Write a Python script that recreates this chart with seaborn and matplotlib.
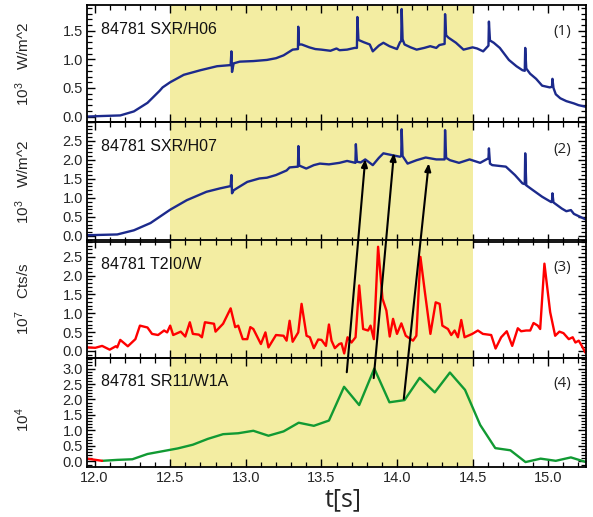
import numpy as np
import pandas as pd
import matplotlib
matplotlib.use("Agg")
import matplotlib.pyplot as plt
from matplotlib.ticker import MultipleLocator, AutoMinorLocator, FuncFormatter, FormatStrFormatter
from matplotlib.patches import ConnectionPatch
import seaborn as sns

# ---- shot 84781 signals ----
h06_t = [11.95, 12.05, 12.17, 12.26, 12.35, 12.43, 12.45, 12.50, 12.59, 12.70, 12.81, 12.90,
         12.905, 12.909, 12.92, 12.96, 13.05, 13.14, 13.20, 13.25, 13.31, 13.345, 13.347, 13.352,
         13.37, 13.42, 13.46, 13.50, 13.56, 13.60, 13.62, 13.67, 13.72, 13.735, 13.738, 13.745,
         13.78, 13.82, 13.84, 13.88, 13.91, 13.95, 14.00, 14.02, 14.028, 14.031, 14.037, 14.05,
         14.09, 14.13, 14.18, 14.22, 14.26, 14.28, 14.315, 14.318, 14.325, 14.34, 14.39, 14.44,
         14.50, 14.53, 14.57, 14.605, 14.608, 14.615, 14.64, 14.68, 14.74, 14.79, 14.83, 14.845,
         14.848, 14.855, 14.88, 14.92, 14.96, 15.01, 15.025, 15.028, 15.035, 15.05, 15.08, 15.12,
         15.17, 15.20, 15.25]
h06_v = [0.00, 0.01, 0.02, 0.09, 0.24, 0.45, 0.51, 0.60, 0.73, 0.81, 0.88, 0.90,
         1.14, 0.78, 0.93, 0.96, 0.97, 0.99, 1.02, 1.07, 1.17, 1.18, 1.57, 1.26,
         1.26, 1.21, 1.18, 1.17, 1.15, 1.19, 1.16, 1.17, 1.20, 1.20, 1.74, 1.34,
         1.30, 1.26, 1.14, 1.24, 1.29, 1.23, 1.18, 1.30, 1.32, 1.88, 1.35, 1.26,
         1.21, 1.17, 1.20, 1.23, 1.20, 1.25, 1.27, 1.79, 1.42, 1.38, 1.29, 1.17,
         1.21, 1.19, 1.14, 1.24, 1.66, 1.33, 1.29, 1.20, 0.99, 0.88, 0.81, 0.80,
         1.20, 0.84, 0.75, 0.66, 0.54, 0.51, 0.52, 0.66, 0.50, 0.39, 0.32, 0.27,
         0.23, 0.20, 0.17]

h07_t = [11.95, 12.05, 12.15, 12.26, 12.37, 12.50, 12.61, 12.74, 12.83, 12.90, 12.905, 12.909,
         12.92, 12.94, 13.01, 13.09, 13.14, 13.20, 13.27, 13.29, 13.345, 13.348, 13.353, 13.40,
         13.45, 13.49, 13.55, 13.62, 13.67, 13.725, 13.728, 13.735, 13.76, 13.79, 13.84, 13.88,
         13.91, 13.97, 14.02, 14.028, 14.031, 14.037, 14.07, 14.13, 14.19, 14.26, 14.315, 14.318,
         14.325, 14.35, 14.41, 14.48, 14.55, 14.605, 14.608, 14.615, 14.63, 14.72, 14.78, 14.83,
         14.845, 14.848, 14.855, 14.90, 14.96, 15.02, 15.025, 15.028, 15.035, 15.09, 15.12, 15.15,
         15.17, 15.25]
h07_v = [0.02, 0.03, 0.04, 0.15, 0.34, 0.69, 0.94, 1.16, 1.25, 1.31, 1.60, 1.12,
         1.20, 1.25, 1.42, 1.51, 1.53, 1.60, 1.72, 1.80, 1.82, 2.36, 1.85, 1.77,
         1.86, 1.90, 1.88, 1.92, 1.97, 1.92, 2.41, 1.95, 1.93, 2.01, 1.86, 2.05,
         2.17, 2.12, 2.08, 2.10, 2.80, 2.10, 1.90, 1.99, 2.06, 2.01, 2.01, 2.78,
         2.05, 1.99, 1.92, 2.01, 1.92, 2.04, 2.30, 1.90, 1.86, 1.82, 1.60, 1.38,
         1.36, 2.17, 1.33, 1.20, 1.03, 0.89, 0.90, 1.12, 0.88, 0.72, 0.65, 0.68,
         0.58, 0.43]

t2i0_t = [11.95, 12.005, 12.05, 12.10, 12.14, 12.15, 12.17, 12.22, 12.27, 12.30, 12.35, 12.38,
          12.42, 12.46, 12.48, 12.50, 12.52, 12.57, 12.60, 12.63, 12.65, 12.69, 12.71, 12.73,
          12.79, 12.80, 12.85, 12.90, 12.93, 12.95, 12.98, 13.01, 13.03, 13.05, 13.10, 13.13,
          13.15, 13.20, 13.25, 13.27, 13.29, 13.31, 13.347, 13.369, 13.402, 13.424, 13.450, 13.479,
          13.501, 13.530, 13.550, 13.567, 13.589, 13.618, 13.633, 13.651, 13.673, 13.699, 13.726, 13.750,
          13.776, 13.809, 13.825, 13.847, 13.875, 13.904, 13.930, 13.952, 13.974, 14.000, 14.029, 14.058,
          14.080, 14.106, 14.128, 14.155, 14.183, 14.221, 14.256, 14.282, 14.300, 14.337, 14.359, 14.381,
          14.403, 14.425, 14.447, 14.498, 14.535, 14.568, 14.623, 14.652, 14.689, 14.726, 14.762, 14.799,
          14.821, 14.854, 14.881, 14.903, 14.931, 14.947, 14.975, 15.013, 15.046, 15.074, 15.101, 15.136,
          15.162, 15.180, 15.202, 15.224, 15.246]
t2i0_v = [0.09, 0.08, 0.13, 0.03, 0.12, 0.09, 0.29, 0.12, 0.31, 0.67, 0.62, 0.45,
          0.42, 0.54, 0.49, 0.67, 0.42, 0.51, 0.38, 0.76, 0.45, 0.43, 0.36, 0.76,
          0.72, 0.51, 0.72, 1.13, 0.63, 0.67, 0.31, 0.31, 0.63, 0.58, 0.18, 0.49,
          0.09, 0.42, 0.40, 0.27, 0.80, 0.24, 0.49, 1.25, 0.40, 0.36, 0.07, 0.30,
          0.29, 0.13, 0.70, 0.27, 0.07, 0.18, 0.20, -0.07, 0.36, 0.22, 0.36, 1.74,
          0.58, 0.54, 0.67, 0.31, 2.77, 1.39, 1.07, 0.38, 0.85, 0.45, 0.73, 0.40,
          0.34, 0.27, 0.40, 2.50, 1.61, 0.45, 1.29, 1.25, 0.67, 0.58, 0.42, 0.54,
          0.36, 0.82, 0.36, 0.45, 0.54, 0.45, 0.42, 0.06, 0.36, 0.52, 0.13, 0.60,
          0.52, 0.54, 0.54, 0.74, 0.67, 0.58, 2.32, 1.03, 0.40, 0.51, 0.47, 0.31,
          0.36, 0.22, 0.27, 0.12, -0.05]

sr11_t = [12.05, 12.15, 12.25, 12.35, 12.45, 12.55, 12.65, 12.75, 12.85, 12.95, 13.05, 13.15,
          13.25, 13.35, 13.45, 13.55, 13.65, 13.75, 13.85, 13.95, 14.05, 14.15, 14.25, 14.35,
          14.45, 14.55, 14.65, 14.75, 14.85, 14.95, 15.05, 15.15, 15.25]
sr11_v = [0.02, 0.05, 0.07, 0.24, 0.33, 0.42, 0.54, 0.73, 0.88, 0.91, 0.99, 0.83,
          0.97, 1.25, 1.15, 1.32, 2.41, 1.82, 3.00, 1.91, 1.98, 2.70, 2.23, 2.87,
          2.31, 1.18, 0.43, 0.36, -0.02, 0.09, 0.02, 0.13, -0.02]

# short leftover trace at the start of the SR11 window
sr11_pre_t = [11.95, 12.05]
sr11_pre_v = [0.09, 0.02]

flat_top = (12.5, 14.5)

# propagation arrows: start on SR11 (panel 4), end on SXR/H07 (panel 2)
arrow_start_t = [13.668, 13.846, 14.045]
arrow_start_v = [2.88, 2.69, 2.02]
arrow_end_t = [13.79, 13.98, 14.21]
arrow_end_v = [2.02, 2.18, 1.91]

panel_names = ["84781 SXR/H06", "84781 SXR/H07", "84781 T2I0/W", "84781 SR11/W1A"]
panel_tags = ["(1)", "(2)", "(3)", "(4)"]
y_titles = ["10$^3$   W/m^2", "10$^3$   W/m^2", "10$^7$   Cts/s", "10$^4$"]
y_limits = [(-0.1, 1.95), (-0.15, 3.0), (-0.2, 2.95), (-0.17, 3.33)]

sns.set_theme(style="white")
plt.rcParams["font.family"] = ["Liberation Sans", "DejaVu Sans"]
plt.rcParams["mathtext.default"] = "regular"

W, H = 593, 517
fig = plt.figure(figsize=(W / 100, H / 100), dpi=100)

# axes boxes in pixels: (top, bottom)
boxes = [(5, 122.3), (121.7, 241.7), (240, 358.3), (358.3, 466.7)]
left_px, right_px = 87, 586
axes = []
for top, bot in boxes:
    ax = fig.add_axes([left_px / W, 1 - bot / H, (right_px - left_px) / W, (bot - top) / H])
    axes.append(ax)

navy = "#1C2A8C"
red = "#FF0000"
green = "#119A33"
yellow = "#F3EDA2"

series = [
    (pd.DataFrame({"t": h06_t, "v": h06_v}), navy),
    (pd.DataFrame({"t": h07_t, "v": h07_v}), navy),
    (pd.DataFrame({"t": t2i0_t, "v": t2i0_v}), red),
    (pd.DataFrame({"t": sr11_t, "v": sr11_v}), green),
]


def label_below(top):
    # leave the tick at the upper frame edge unlabelled
    return FuncFormatter(lambda v, pos: "" if v > top - 0.02 else f"{v:.1f}")


for i, (ax, (df, col)) in enumerate(zip(axes, series)):
    ax.axvspan(*flat_top, color=yellow, lw=0, zorder=0)
    sns.lineplot(data=df, x="t", y="v", ax=ax, color=col, lw=1.7,
                 estimator=None, sort=False, zorder=3)
    if i == 3:
        sns.lineplot(x=sr11_pre_t, y=sr11_pre_v, ax=ax, color=red, lw=1.7,
                     estimator=None, sort=False, zorder=3)
    ax.set_xlim(11.95, 15.25)
    ax.set_ylim(*y_limits[i])
    ax.set_xlabel("")
    ax.set_ylabel("")
    ax.xaxis.set_major_locator(MultipleLocator(0.5))
    ax.xaxis.set_minor_locator(MultipleLocator(0.1))
    ax.yaxis.set_major_locator(MultipleLocator(0.5))
    ax.yaxis.set_minor_locator(AutoMinorLocator(5))
    ax.yaxis.set_major_formatter(label_below(y_limits[i][1]))
    ax.xaxis.set_major_formatter(FormatStrFormatter("%.1f"))
    ax.tick_params(which="both", direction="in", top=True, right=True,
                   bottom=True, left=True, color="black")
    ax.tick_params(which="major", length=6, width=1.0, labelsize=10.5, pad=3)
    ax.tick_params(which="minor", length=3.5, width=0.9)
    if i < 3:
        ax.tick_params(labelbottom=False)
    for s in ax.spines.values():
        s.set_color("black")
        s.set_linewidth(1.3)
        s.set_zorder(5)
    ax.patch.set_alpha(0)
    ax.text(0.028, 0.79, panel_names[i], transform=ax.transAxes,
            ha="left", va="center", fontsize=11.5, color="#111111", zorder=6)
    ax.text(0.952, 0.77, panel_tags[i], transform=ax.transAxes,
            ha="center", va="center", fontsize=11, family=["Open Sans", "DejaVu Sans"],
            color="#222222", zorder=6)

ylab_y = [63.6, 181.7, 299, 420]
for txt, yp in zip(y_titles, ylab_y):
    fig.text(23 / W, 1 - yp / H, txt, rotation=90, ha="center", va="center", fontsize=11)

fig.text(343 / W, 1 - 500 / H, "t[s]", ha="center", va="center", fontsize=18,
         family=["Open Sans", "DejaVu Sans"])

for ts, vs, te, ve in zip(arrow_start_t, arrow_start_v, arrow_end_t, arrow_end_v):
    con = ConnectionPatch(xyA=(ts, vs), coordsA=axes[3].transData,
                          xyB=(te, ve), coordsB=axes[1].transData,
                          arrowstyle="-|>,head_length=0.45,head_width=0.18",
                          color="black", lw=1.5, zorder=10, shrinkA=0, shrinkB=0)
    fig.add_artist(con)

fig.savefig("out.png", dpi=100)
